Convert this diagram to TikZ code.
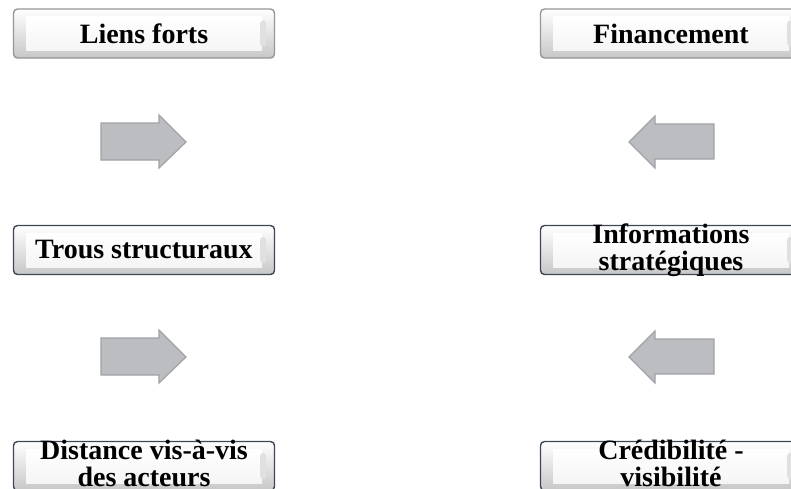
\documentclass[tikz,border=0pt]{standalone}
\usepackage{fontspec}
\setmainfont{Liberation Serif}
\definecolor{arrfill}{RGB}{187,189,193}
\definecolor{arrline}{RGB}{160,162,167}
\definecolor{lightedge}{RGB}{150,150,152}
\definecolor{darkedge}{RGB}{62,72,84}
\tikzset{
  boxouter/.style={draw=#1, line width=1.4pt, rounded corners=4pt, top color=white, bottom color=black!22,
    minimum width=261pt, minimum height=49pt, inner sep=0pt},
  boxface/.style={top color=white, bottom color=black!4, minimum width=236pt, minimum height=34pt, inner sep=0pt},
  boxnub/.style={fill=black!12, minimum width=6pt, minimum height=26pt, inner sep=0pt, rounded corners=3pt},
  lbl/.style={font=\bfseries\fontsize{28}{27}\selectfont, align=center, inner sep=0pt},
  arr/.style={fill=arrfill, draw=arrline, line width=1.2pt, line join=miter}
}
\begin{document}
\begin{tikzpicture}[x=1pt,y=-1pt]
\useasboundingbox (0,0) rectangle (791,488);
\fill[white] (0,0) rectangle (791,488);
\clip (0,0) rectangle (791,488);
% left column
\node[boxouter=lightedge] (b1) at (144,33.5) {};
\node[boxface] (f1) at (b1.center) {};
\node[boxnub] (n1) at ([xshift=-12pt]b1.east) {};
\node[lbl] (t1) at (144,33.5) {Liens forts};

\node[boxouter=darkedge] (b2) at (144,250) {};
\node[boxface] (f2) at (b2.center) {};
\node[boxnub] (n2) at ([xshift=-12pt]b2.east) {};
\node[lbl] (t2) at (144,249) {Trous structuraux};

\node[boxouter=darkedge] (b3) at (144,466) {};
\node[boxface] (f3) at (b3.center) {};
\node[boxnub] (n3) at ([xshift=-12pt]b3.east) {};
\node[lbl] (t3) at (144,463) {Distance vis-à-vis\\des acteurs};

% right column
\node[boxouter=lightedge] (r1) at (671,33.5) {};
\node[boxface] (g1) at (r1.center) {};
\node[boxnub] (m1) at ([xshift=-12pt]r1.east) {};
\node[lbl] (s1) at (671,33.5) {Financement};

\node[boxouter=darkedge] (r2) at (671,250) {};
\node[boxface] (g2) at (r2.center) {};
\node[boxnub] (m2) at ([xshift=-12pt]r2.east) {};
\node[lbl] (s2) at (671,250) {Informations\\stratégiques};

\node[boxouter=darkedge] (r3) at (671,466) {};
\node[boxface] (g3) at (r3.center) {};
\node[boxnub] (m3) at ([xshift=-12pt]r3.east) {};
\node[lbl] (s3) at (671,463) {Crédibilité -\\visibilité};

% arrows
\foreach \dy in {0,215}{
  \draw[arr] (101,123+\dy) -- (159,123+\dy) -- (159,115+\dy) -- (186,142+\dy) -- (159,168+\dy) -- (159,160+\dy) -- (101,160+\dy) -- cycle;
  \draw[arr] (714,124+\dy) -- (655,124+\dy) -- (655,116+\dy) -- (629,142+\dy) -- (655,168+\dy) -- (655,159+\dy) -- (714,159+\dy) -- cycle;
}
\end{tikzpicture}
\end{document}
